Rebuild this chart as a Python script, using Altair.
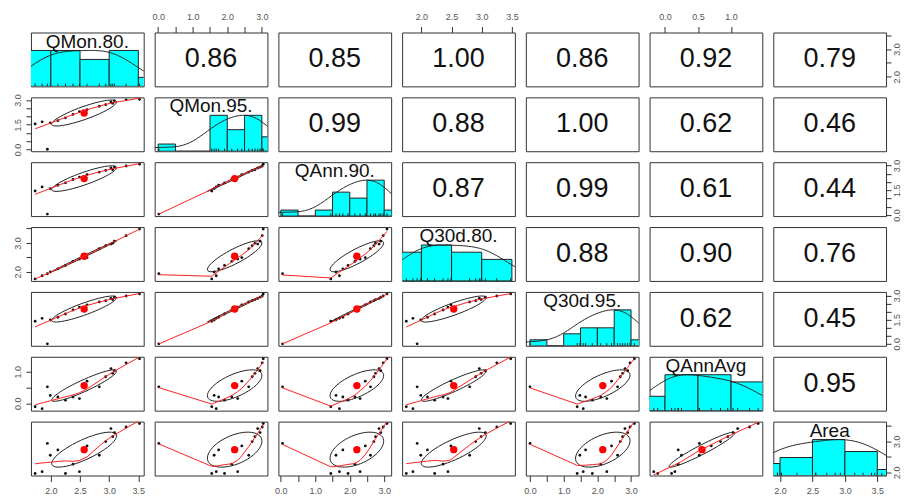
import numpy as np
import pandas as pd
import altair as alt

names = ["QMon.80.", "QMon.95.", "QAnn.90.", "Q30d.80.", "Q30d.95.", "QAnnAvg", "Area"]

qmon80 = [1.73, 1.85, 1.94, 1.99, 2.12, 2.25, 2.38, 2.49, 2.62, 2.83, 2.94, 3.03, 3.06, 3.09, 3.29, 3.52]
qmon95 = [1.55, 1.68, 0.02, 1.62, 1.75, 1.92, 2.13, 2.30, 2.42, 2.62, 2.72, 2.88, 2.80, 2.95, 3.01, 3.04]
qann90 = [1.45, 1.70, 0.05, 1.60, 1.80, 1.95, 2.15, 2.30, 2.45, 2.60, 2.70, 2.85, 2.75, 2.90, 2.97, 3.08]
q30d80 = [1.75, 1.86, 1.93, 1.99, 2.10, 2.22, 2.36, 2.44, 2.49, 2.80, 2.90, 2.96, 2.99, 3.06, 3.25, 3.48]
q30d95 = [1.40, 1.58, 0.00, 1.48, 1.65, 1.85, 2.10, 2.28, 2.42, 2.60, 2.68, 2.82, 2.75, 2.90, 2.97, 3.10]
qannavg = [-0.11, -0.17, 0.52, 0.25, 0.20, 0.10, 0.20, 0.15, 0.70, 0.52, 0.84, 1.10, 0.95, 1.03, 1.28, 1.41]
area = [1.96, 2.02, 2.93, 2.55, 2.72, 1.96, 2.26, 2.02, 2.85, 2.55, 2.99, 3.41, 3.15, 3.28, 3.46, 3.57]

# correlations printed in the upper panels (row by row)
corr_text = [
    ["0.86", "0.85", "1.00", "0.86", "0.92", "0.79"],
    ["0.99", "0.88", "1.00", "0.62", "0.46"],
    ["0.87", "0.99", "0.61", "0.44"],
    ["0.88", "0.90", "0.76"],
    ["0.62", "0.45"],
    ["0.95"],
]

# axis ticks and labelled values per variable
x_ticks = [[2.0, 2.5, 3.0, 3.5], [0, 0.5, 1, 1.5, 2, 2.5, 3], [0, 0.5, 1, 1.5, 2, 2.5, 3],
           [2.0, 2.5, 3.0, 3.5], [0, 0.5, 1, 1.5, 2, 2.5, 3], [0, 0.5, 1.0], [2.0, 2.5, 3.0, 3.5]]
x_labs = [[2, 2.5, 3, 3.5], [0, 1, 2, 3], [0, 1, 2, 3], [2, 2.5, 3, 3.5], [0, 1, 2, 3], [0, 0.5, 1], [2, 2.5, 3, 3.5]]
y_ticks = [[2.0, 2.5, 3.0, 3.5], [0, 0.5, 1, 1.5, 2, 2.5, 3], [0, 0.5, 1, 1.5, 2, 2.5, 3],
           [2.0, 2.5, 3.0, 3.5], [0, 0.5, 1, 1.5, 2, 2.5, 3], [0, 0.5, 1.0], [2.0, 2.5, 3.0, 3.5]]
y_labs = [[2, 3], [0, 1.5, 3], [0, 1.5, 3], [2, 3], [0, 1.5, 3], [0, 1], [2, 3]]

cols = [qmon80, qmon95, qann90, q30d80, q30d95, qannavg, area]
N = len(cols)
W, H = 113, 54
FONT = "Liberation Sans"


def dom(v):
    v = np.asarray(v, float)
    lo, hi = v.min(), v.max()
    e = 0.04 * (hi - lo)
    return [float(lo - e), float(hi + e)]


doms = [dom(c) for c in cols]


def lin(k, frac):
    return doms[k][0] + np.asarray(frac) * (doms[k][1] - doms[k][0])


def axis_obj(orient, ticks, labels):
    lab = ",".join(str(float(v)) for v in labels)
    expr = f"indexof([{lab}], datum.value) >= 0 ? format(datum.value, '.1f') : ''"
    kw = dict(orient=orient, values=[float(t) for t in ticks], labelExpr=expr, domain=False, grid=False,
              ticks=True, tickColor="#333", labelColor="#555", labelFontSize=9,
              labelFont=FONT, labelOverlap=False, labelFlush=False, title=None)
    if orient == "left":
        kw.update(labelAngle=270, labelAlign="center", labelBaseline="bottom", tickSize=5, labelPadding=3)
    elif orient == "right":
        kw.update(labelAngle=270, labelAlign="center", labelBaseline="top", tickSize=5, labelPadding=1)
    else:
        kw.update(labelAngle=0, tickSize=6, labelPadding=5)
    return alt.Axis(**kw)


def hist(v, step=0.5):
    v = np.asarray(v, float)
    b0 = np.floor(v.min() / step) * step
    b1 = np.ceil(v.max() / step) * step
    br = np.arange(b0, b1 + step / 2, step)
    idx = np.clip(np.searchsorted(br, v, side="left") - 1, 0, len(br) - 2)
    cnt = np.bincount(idx, minlength=len(br) - 1)
    return br[:-1], br[1:], cnt


def density(v, adjust=1.4):
    v = np.asarray(v, float)
    sd = v.std(ddof=1)
    iqr = np.percentile(v, 75) - np.percentile(v, 25)
    bw = adjust * 0.9 * min(sd, iqr / 1.34) * len(v) ** -0.2
    g = np.linspace(v.min() - 3 * bw, v.max() + 3 * bw, 160)
    d = np.exp(-0.5 * ((g[:, None] - v[None, :]) / bw) ** 2).sum(axis=1)
    return g, d / d.max()


def ellipse(xv, yv):
    x = np.asarray(xv, float)
    y = np.asarray(yv, float)
    xm, ym = x.mean(), y.mean()
    xs, ys = x.std(ddof=1), y.std(ddof=1)
    r = np.corrcoef(x, y)[0, 1]
    ang = np.arange(52) * 2 * np.pi / 51
    circ = np.column_stack([np.cos(ang), np.sin(ang)])
    th = np.sign(r) / np.sqrt(2) if abs(r) > 0 else 1 / np.sqrt(2)
    shape = np.diag([np.sqrt(1 + r), np.sqrt(1 - r)]) @ np.array([[th, th], [-th, th]])
    e = circ @ shape
    return e[:, 0] * xs + xm, e[:, 1] * ys + ym, xm, ym


panels = []
for i in range(N):
    for j in range(N):
        xa = None
        if j % 2 == 0 and i == N - 1:
            xa = axis_obj("bottom", x_ticks[j], x_labs[j])
        elif j % 2 == 1 and i == 0:
            xa = axis_obj("top", x_ticks[j], x_labs[j])
        ya = None
        if i % 2 == 1 and j == 0:
            ya = axis_obj("left", y_ticks[i], y_labs[i])
        elif i % 2 == 0 and j == N - 1:
            ya = axis_obj("right", y_ticks[i], y_labs[i])
        X = alt.X("x:Q", scale=alt.Scale(domain=doms[j], nice=False, zero=False), axis=xa)
        Y = alt.Y("y:Q", scale=alt.Scale(domain=doms[i], nice=False, zero=False), axis=ya)

        if i == j:
            s, e, c = hist(cols[j])
            h = c / c.max() / 1.5
            bars = pd.DataFrame({"x": s, "x2": e, "y": lin(j, np.zeros_like(h)), "y2": lin(j, h)})
            g, d = density(cols[j])
            dens = pd.DataFrame({"x": g, "y": lin(j, d / 1.5)})
            rug = pd.DataFrame({"x": cols[j], "y": lin(j, np.zeros(len(cols[j]))),
                                "y2": lin(j, np.full(len(cols[j]), 0.05))})
            lab = pd.DataFrame({"x": [sum(doms[j]) / 2], "y": [float(lin(j, 0.83))], "t": [names[j]]})
            layers = [
                alt.Chart(bars).mark_rect(color="#00FFFF", stroke="#222", strokeWidth=1, clip=True)
                .encode(x=X, x2="x2:Q", y=Y, y2="y2:Q"),
                alt.Chart(dens).mark_line(color="#222", strokeWidth=1, clip=True).encode(x=X, y=Y),
                alt.Chart(rug).mark_rule(color="#222", strokeWidth=1, clip=True).encode(x=X, y=Y, y2="y2:Q"),
                alt.Chart(lab).mark_text(font=FONT, fontSize=19, color="#111", baseline="middle")
                .encode(x=X, y=Y, text="t:N"),
            ]
        elif j > i:
            t = corr_text[i][j - i - 1]
            df = pd.DataFrame({"x": [sum(doms[j]) / 2], "y": [sum(doms[i]) / 2], "t": [t]})
            layers = [alt.Chart(df).mark_text(font=FONT, fontSize=27, color="#111", baseline="middle")
                      .encode(x=X, y=Y, text="t:N")]
        else:
            pts = pd.DataFrame({"x": cols[j], "y": cols[i]})
            ex, ey, xm, ym = ellipse(cols[j], cols[i])
            ell = pd.DataFrame({"x": ex, "y": ey, "k": np.arange(len(ex))})
            mean = pd.DataFrame({"x": [xm], "y": [ym]})
            layers = [
                alt.Chart(pts).mark_circle(size=8, color="#111", opacity=1).encode(x=X, y=Y),
                alt.Chart(ell).mark_line(color="#222", strokeWidth=1, clip=True)
                .encode(x=X, y=Y, order="k:Q"),
                alt.Chart(mean).mark_circle(size=55, color="#ff0000", opacity=1).encode(x=X, y=Y),
                alt.Chart(pts).transform_loess("x", "y", bandwidth=0.67)
                .mark_line(color="#ff2020", strokeWidth=1, clip=True).encode(x=X, y=Y),
            ]
        panels.append(alt.layer(*layers).properties(width=W, height=H))

chart = (
    alt.concat(*panels, columns=N, spacing=11, bounds="flush")
    .properties(padding={"left": 5, "top": 3, "right": 0, "bottom": 0}, background="white")
    .configure_view(stroke="#333", strokeWidth=1)
)

chart.save("out.html", embed_options={"renderer": "svg", "actions": False})
